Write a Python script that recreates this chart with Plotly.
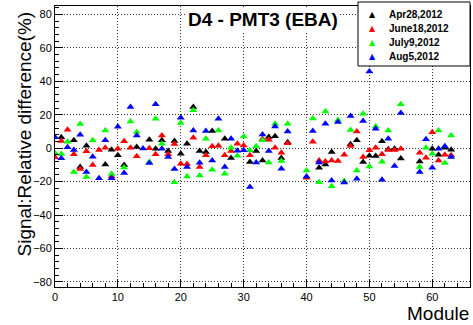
import plotly.graph_objects as go

modules = list(range(64))
labels = ["Apr28,2012", "June18,2012", "July9,2012", "Aug5,2012"]
colors = ["#000000", "#ff0000", "#00ff00", "#0000ff"]

apr28 = [None, 6.6, None, 4.7, -11.3, 1.5, None, None, -9.7, -0.9,
         -4.3, -10, None, 0.7, None, 5, -0.3, 4.7, -1.7, 4.3,
         -3.3, 2.7, 24.6, -1.7, -2.3, 10.2, None, 5.7, -5.9, None,
         None, -8.3, -1.7, -7.3, 6.7, 7.2, -5.9, 3.5, None, None,
         None, None, -11.7, -9.7, -2.3, None, None, 2.3, 4.7, -8.3,
         -4.5, -4.7, 4.1, -0.7, -0.3, -6.1, None, None, -7.9, None,
         -0.3, -3.9, 0.3, -0.9]
june18 = [-5.5, 4.3, 11, -3.7, -12.5, -1.8, -10.1, -1.1, 0.3, -16.9,
          -0.3, 4.2, 0.3, -4.9, None, 0, -3.7, 7.6, -3.7, 2.5,
          -9.3, -9.5, 6.3, -11.2, -4.3, 1.1, 1.5, -4.3, -1.7, 2.7,
          1.6, -4.3, None, 5.5, 5, 0.3, -2.7, 3, None, None,
          -17.7, 3.9, -7.3, -8, -7.3, -7.7, -3.9, 1.3, 10, -5.3,
          -1.3, 0.3, -3.7, -1.1, -1.1, -0.3, None, None, -2.7, -5.7,
          9.5, -7.3, -3.9, -4.3]
july9 = [-3, -3.5, 3.9, -14.3, 14.4, -17.2, 4.7, None, 10.6, -15.5,
         None, -11.5, 16, 9.6, None, -8.3, 17.6, 2.7, None, -20.3,
         15, -16.9, 22.6, -16.3, 5.7, -12.9, 10.6, -15.3, 0.3, -4.5,
         7, -1.3, 1.1, 4.7, -8.5, 14.6, -7.7, 14.6, None, None,
         -13.3, 17.8, -20.3, 22, -22.8, 16.8, -19.7, 10.9, -13.3, 20.6,
         -11, 13, -8.1, 10.6, None, 26.2, None, None, -11.3, 0.3,
         -3.3, 10.6, -8.9, 7.6]
aug5 = [6.6, -6, 0.5, -1.1, 8, -14.3, -5.1, -18, 4.7, -18,
        12.8, -14.9, 24.6, 7.6, -0.2, -8.9, 26.2, -0.3, -5.3, -12.5,
        18.2, -11.2, 10.6, -8.7, 10.2, -7.3, 17.6, -11.3, 5.7, -1.5,
        -1.3, -23.2, -8.5, 8.2, -1.7, 13, -12.3, 10, None, None,
        -16.9, 10.2, -8.5, 14.6, -19.3, 15.6, -20.5, 19.3, -18.3, 16.2,
        45.9, 11.6, -18.9, 5.7, -10.7, 21, None, None, -14.3, 5.3,
        -11.7, -0.3, 1.1, -5.3]
series = [apr28, june18, july9, aug5]

FONT = "Liberation Sans, Arial, Helvetica, sans-serif"

fig = go.Figure()
for lab, col, ys in zip(labels, colors, series):
    fig.add_trace(go.Scatter(
        x=modules, y=ys, mode="markers", name=lab,
        marker=dict(symbol="triangle-up", size=7, color=col, line=dict(width=0)),
        showlegend=False,
    ))

axis_common = dict(
    showline=True, linecolor="black", linewidth=1, mirror=True,
    ticks="inside", tickcolor="black", ticklen=8, tickwidth=1,
    showgrid=True, gridcolor="#333333", gridwidth=1, griddash="1px,2px",
    zeroline=False,
    tickfont=dict(family=FONT, size=11, color="black"),
)
fig.update_xaxes(range=[0, 66], tick0=0, dtick=10,
                 minor=dict(ticks="inside", ticklen=4, dtick=2, tickcolor="black", showgrid=False),
                 **axis_common)
fig.update_yaxes(range=[-83, 85], tick0=0, dtick=20,
                 minor=dict(ticks="inside", ticklen=4, dtick=4, tickcolor="black", showgrid=False),
                 **axis_common)

L, R, T, B = 55, 3, 6, 38
W, H = 473, 325
pw, ph = W - L - R, H - T - B

def px(x):
    return (x - L) / pw

def py(y):
    return (H - B - y) / ph

annotations = [
    dict(text="<b>D4 - PMT3 (EBA)</b>", x=px(263), y=py(20), xref="paper", yref="paper",
         xanchor="center", yanchor="middle", showarrow=False,
         font=dict(family=FONT, size=19, color="black"), bgcolor="white", borderpad=1),
    dict(text="Signal:Relative difference(%)", x=px(24), y=py(10), xref="paper", yref="paper",
         xanchor="center", yanchor="top", textangle=-90, showarrow=False,
         font=dict(family=FONT, size=19, color="black")),
    dict(text="Module", x=1.0, y=py(324), xref="paper", yref="paper",
         xanchor="right", yanchor="bottom", showarrow=False, borderpad=0, height=20,
         font=dict(family=FONT, size=19, color="black")),
]
leg_y = [14, 28.5, 42.5, 56.5]
for lab, col, yy in zip(labels, colors, leg_y):
    annotations.append(dict(text="▲", x=px(372), y=py(yy), xref="paper", yref="paper",
                            xanchor="center", yanchor="middle", showarrow=False,
                            font=dict(family="DejaVu Sans", size=8, color=col)))
    annotations.append(dict(text="<b>" + lab + "</b>", x=px(387), y=py(yy), xref="paper", yref="paper",
                            xanchor="left", yanchor="middle", showarrow=False,
                            font=dict(family=FONT, size=10, color="black")))

fig.update_layout(
    width=W, height=H,
    margin=dict(l=L, r=R, t=T, b=B),
    paper_bgcolor="white", plot_bgcolor="white",
    showlegend=False,
    annotations=annotations,
    shapes=[dict(type="rect", xref="paper", yref="paper",
                 x0=px(358), x1=px(470), y0=py(66), y1=py(2),
                 line=dict(color="black", width=1), fillcolor="white", layer="above")],
)

fig.write_html("out.html")
